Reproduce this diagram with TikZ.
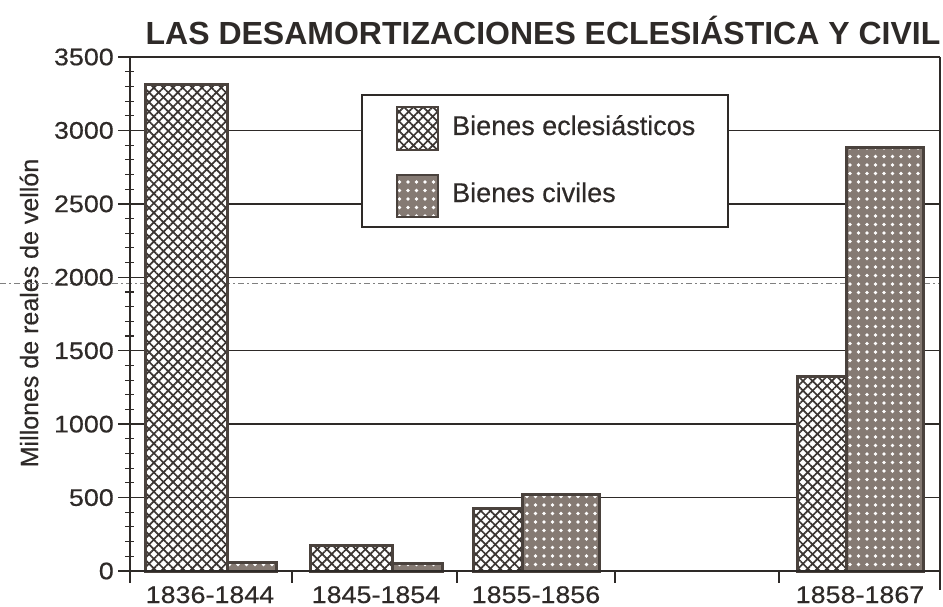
\documentclass[tikz,border=0pt]{standalone}
\usepackage{fontspec}
\setmainfont{Liberation Sans}
\newfontfamily\tickfont[FakeStretch=1.12,FakeBold=0.4]{Liberation Sans}
\newfontfamily\labfont[FakeBold=0.4]{Liberation Sans}
\usetikzlibrary{patterns.meta}
\definecolor{ink}{HTML}{2E2A28}
\definecolor{barline}{HTML}{4A423D}
\definecolor{civfill}{HTML}{857A73}
\definecolor{hatch}{HTML}{3A3431}
\tikzset{
  gridline/.style={line width=1.3pt, draw=ink},
  axisline/.style={line width=1.6pt, draw=ink},
  eccl/.style={preaction={fill=white},
    preaction={pattern={Lines[angle=45,distance=6.8pt,line width=1.7pt]}, pattern color=hatch},
    preaction={pattern={Lines[angle=-45,distance=6.8pt,line width=1.7pt]}, pattern color=hatch},
    draw=barline, line width=3pt},
  civ/.style={preaction={fill=civfill},
    preaction={pattern={Dots[distance=8.5pt,radius=1.9pt]}, pattern color=white},
    draw=barline, line width=3pt},
  ticklab/.style={font=\tickfont\fontsize{24}{24}\selectfont, anchor=east, inner sep=0pt},
  catlab/.style={font=\tickfont\fontsize{24}{24}\selectfont, anchor=base, inner sep=0pt},
  legtext/.style={font=\labfont\fontsize{27}{28}\selectfont, anchor=base west, inner sep=0pt},
}
\begin{document}
\begin{tikzpicture}[x=1pt,y=-1pt]
\useasboundingbox (0,0) rectangle (943,607);
% title
\node[font=\bfseries\fontsize{32}{34}\selectfont, anchor=base, inner sep=0pt, text=ink] (title) at (543,45) {LAS DESAMORTIZACIONES ECLESIÁSTICA Y CIVIL};
% axis title
\node[font=\labfont\fontsize{25}{26}\selectfont, rotate=90, inner sep=0pt, text=ink] (ytitle) at (29,313) {Millones de reales de vellón};
% scan line near 2000
\draw[gray, line width=0.8pt, dash pattern=on 6pt off 3pt on 2pt off 3pt] (0,283) -- (940,283);
% gridlines
\foreach \v in {500,1000,...,3000}{
  \pgfmathsetmacro\yy{571-\v/3500*514}
  \draw[gridline] (130,\yy) -- (940,\yy);
}
\draw[axisline] (118,57) -- (940,57);
% y ticks
\foreach \v in {0,100,...,3500}{
  \pgfmathsetmacro\yy{571-\v/3500*514}
  \draw[ink, line width=1.1pt] (125,\yy) -- (134,\yy);
}
\foreach \v in {0,500,...,3500}{
  \pgfmathsetmacro\yy{571-\v/3500*514}
  \draw[ink, line width=1.3pt] (118,\yy) -- (130,\yy);
  \node[ticklab, text=ink] (t\v) at (114,\yy) {\v};
}
% frame
\draw[axisline] (130,57) -- (130,583);
\draw[axisline] (940,57) -- (940,590);
% bars
\path[civ] (227,562) rectangle (276,571);
\path[eccl] (145,85) rectangle (227,571);
\path[civ] (392,563) rectangle (442,571);
\path[eccl] (310,545) rectangle (392,571);
\path[eccl] (473,508) rectangle (522,571);
\path[civ] (522,494) rectangle (599,571);
\path[eccl] (797,376) rectangle (846,571);
\path[civ] (846,148) rectangle (923,571);
% x axis
\draw[axisline] (118,571) -- (940,571);
\foreach \x in {292,457,615,779}{
  \draw[ink, line width=1.3pt] (\x,571) -- (\x,583);
}
% category labels
\node[catlab, text=ink] (c1) at (210,603) {1836-1844};
\node[catlab, text=ink] (c2) at (376,603) {1845-1854};
\node[catlab, text=ink] (c3) at (536,603) {1855-1856};
\node[catlab, text=ink] (c5) at (860,603) {1858-1867};
% legend
\node[draw=ink, line width=1.8pt, fill=white, minimum width=366pt, minimum height=132pt, inner sep=0pt] (legend) at (545,161) {};
\path[eccl, line width=2.4pt] (397,107) rectangle (438,150);
\path[civ, line width=2.4pt] (397,175) rectangle (438,217);
\node[legtext, text=ink] (l1) at (452,135) {Bienes eclesiásticos};
\node[legtext, text=ink] (l2) at (452,202) {Bienes civiles};
\end{tikzpicture}
\end{document}
